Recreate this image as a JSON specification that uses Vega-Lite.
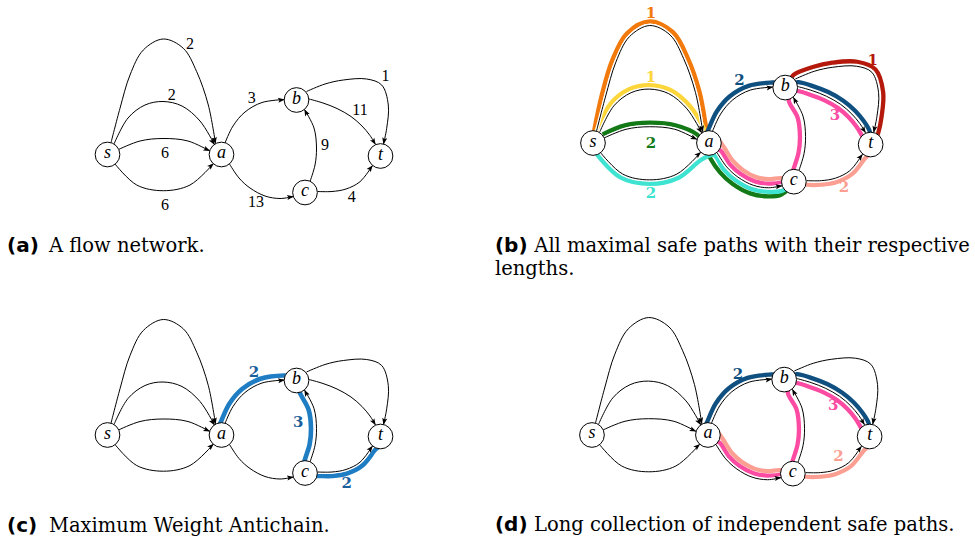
{
  "$schema": "https://vega.github.io/schema/vega-lite/v6.json",
  "padding": 0,
  "autosize": {"type": "pad"},
  "spacing": 0,
  "columns": 2,
  "bounds": "flush",
  "config": {"view": {"stroke": null}, "concat": {"spacing": 0}},
  "resolve": {"scale": {"x": "independent", "y": "independent"}},
  "datasets": {
    "nodes": [
      {"n": "s", "x": 107.5, "y": 154.5},
      {"n": "a", "x": 221.5, "y": 154.5},
      {"n": "b", "x": 296.5, "y": 100},
      {"n": "c", "x": 305, "y": 192.5},
      {"n": "t", "x": 380.5, "y": 156}
    ],
    "edges": [
      {"e": "E1", "i": 0, "x": 111, "y": 142.7}, {"e": "E1", "i": 1, "x": 120, "y": 108.3}, {"e": "E1", "i": 2, "x": 130, "y": 75}, {"e": "E1", "i": 3, "x": 143.3, "y": 50}, {"e": "E1", "i": 4, "x": 163.3, "y": 39}, {"e": "E1", "i": 5, "x": 183.3, "y": 48.3}, {"e": "E1", "i": 6, "x": 196.7, "y": 71.7}, {"e": "E1", "i": 7, "x": 208.3, "y": 105}, {"e": "E1", "i": 8, "x": 215.5, "y": 143.5},
      {"e": "E2", "i": 0, "x": 114, "y": 144}, {"e": "E2", "i": 1, "x": 128, "y": 118}, {"e": "E2", "i": 2, "x": 145, "y": 105}, {"e": "E2", "i": 3, "x": 163, "y": 101.5}, {"e": "E2", "i": 4, "x": 182, "y": 106}, {"e": "E2", "i": 5, "x": 200, "y": 121}, {"e": "E2", "i": 6, "x": 214.5, "y": 144.5},
      {"e": "E3", "i": 0, "x": 118.5, "y": 149.5}, {"e": "E3", "i": 1, "x": 140, "y": 141}, {"e": "E3", "i": 2, "x": 163, "y": 138.5}, {"e": "E3", "i": 3, "x": 188, "y": 141}, {"e": "E3", "i": 4, "x": 209.8, "y": 151},
      {"e": "E4", "i": 0, "x": 115, "y": 164}, {"e": "E4", "i": 1, "x": 136.7, "y": 185}, {"e": "E4", "i": 2, "x": 163.3, "y": 190.7}, {"e": "E4", "i": 3, "x": 190, "y": 185}, {"e": "E4", "i": 4, "x": 213.5, "y": 163.5},
      {"e": "E5", "i": 0, "x": 225, "y": 143}, {"e": "E5", "i": 1, "x": 233, "y": 126}, {"e": "E5", "i": 2, "x": 245, "y": 112}, {"e": "E5", "i": 3, "x": 262, "y": 102.5}, {"e": "E5", "i": 4, "x": 284.5, "y": 99.5},
      {"e": "E6", "i": 0, "x": 229.5, "y": 164}, {"e": "E6", "i": 1, "x": 239, "y": 178}, {"e": "E6", "i": 2, "x": 250, "y": 188}, {"e": "E6", "i": 3, "x": 265, "y": 196}, {"e": "E6", "i": 4, "x": 280, "y": 198.5}, {"e": "E6", "i": 5, "x": 293.5, "y": 196.5},
      {"e": "E7", "i": 0, "x": 310, "y": 181.5}, {"e": "E7", "i": 1, "x": 315, "y": 165}, {"e": "E7", "i": 2, "x": 316.5, "y": 148}, {"e": "E7", "i": 3, "x": 314, "y": 128}, {"e": "E7", "i": 4, "x": 304.5, "y": 109.5},
      {"e": "E8", "i": 0, "x": 306.5, "y": 91.5}, {"e": "E8", "i": 1, "x": 325, "y": 84}, {"e": "E8", "i": 2, "x": 343.3, "y": 80}, {"e": "E8", "i": 3, "x": 366.7, "y": 79}, {"e": "E8", "i": 4, "x": 381.7, "y": 85}, {"e": "E8", "i": 5, "x": 388.3, "y": 105}, {"e": "E8", "i": 6, "x": 386.7, "y": 128.3}, {"e": "E8", "i": 7, "x": 383.5, "y": 144},
      {"e": "E9", "i": 0, "x": 309, "y": 99}, {"e": "E9", "i": 1, "x": 323, "y": 103}, {"e": "E9", "i": 2, "x": 337, "y": 108.5}, {"e": "E9", "i": 3, "x": 351, "y": 116.5}, {"e": "E9", "i": 4, "x": 362, "y": 126}, {"e": "E9", "i": 5, "x": 370, "y": 135.5}, {"e": "E9", "i": 6, "x": 375.5, "y": 144.5},
      {"e": "E10", "i": 0, "x": 317.5, "y": 191.5}, {"e": "E10", "i": 1, "x": 332, "y": 191.5}, {"e": "E10", "i": 2, "x": 346, "y": 189}, {"e": "E10", "i": 3, "x": 360, "y": 181.7}, {"e": "E10", "i": 4, "x": 372.5, "y": 165.5}
    ],
    "arrows": [
      {"e": "E1", "x": 214.9, "y": 140.6, "dir": 169.4},
      {"e": "E2", "x": 212.9, "y": 142, "dir": 148.3},
      {"e": "E3", "x": 207.1, "y": 149.7, "dir": 114.6},
      {"e": "E4", "x": 211.3, "y": 165.5, "dir": 47.6},
      {"e": "E5", "x": 281.5, "y": 99.9, "dir": 82.4},
      {"e": "E6", "x": 290.5, "y": 196.9, "dir": 81.5},
      {"e": "E7", "x": 305.9, "y": 112.2, "dir": 332.7},
      {"e": "E8", "x": 384.1, "y": 141.1, "dir": 191.5},
      {"e": "E9", "x": 373.9, "y": 141.9, "dir": 148.6},
      {"e": "E10", "x": 370.7, "y": 167.9, "dir": 37.7}
    ],
    "paths_b": [
      {"seg": "orange", "p": "orange", "i": 0, "x": 108.5, "y": 143}, {"seg": "orange", "p": "orange", "i": 1, "x": 116.2, "y": 107.2}, {"seg": "orange", "p": "orange", "i": 2, "x": 126.4, "y": 73.2}, {"seg": "orange", "p": "orange", "i": 3, "x": 140.8, "y": 46.8}, {"seg": "orange", "p": "orange", "i": 4, "x": 163.3, "y": 35}, {"seg": "orange", "p": "orange", "i": 5, "x": 186.1, "y": 45.5}, {"seg": "orange", "p": "orange", "i": 6, "x": 200.3, "y": 70}, {"seg": "orange", "p": "orange", "i": 7, "x": 212.2, "y": 104}, {"seg": "orange", "p": "orange", "i": 8, "x": 219.4, "y": 142.8}, {"seg": "orange", "p": "orange", "i": 9, "x": 220.5, "y": 148},
      {"seg": "yellow", "p": "yellow", "i": 0, "x": 110.5, "y": 143.5}, {"seg": "yellow", "p": "yellow", "i": 1, "x": 125.2, "y": 115.2}, {"seg": "yellow", "p": "yellow", "i": 2, "x": 143.6, "y": 101.3}, {"seg": "yellow", "p": "yellow", "i": 3, "x": 163, "y": 97.5}, {"seg": "yellow", "p": "yellow", "i": 4, "x": 183.6, "y": 102.3}, {"seg": "yellow", "p": "yellow", "i": 5, "x": 203.2, "y": 118.6}, {"seg": "yellow", "p": "yellow", "i": 6, "x": 217, "y": 141}, {"seg": "yellow", "p": "yellow", "i": 7, "x": 219, "y": 146},
      {"seg": "green", "p": "green", "i": 0, "x": 117, "y": 146}, {"seg": "green", "p": "green", "i": 1, "x": 138.8, "y": 137.2}, {"seg": "green", "p": "green", "i": 2, "x": 163, "y": 134.5}, {"seg": "green", "p": "green", "i": 3, "x": 188.5, "y": 137}, {"seg": "green", "p": "green", "i": 4, "x": 210, "y": 146.3}, {"seg": "green", "p": "green", "i": 5, "x": 217, "y": 156}, {"seg": "green", "p": "green", "i": 6, "x": 222.4, "y": 168.8}, {"seg": "green", "p": "green", "i": 7, "x": 232.4, "y": 183.3}, {"seg": "green", "p": "green", "i": 8, "x": 244.9, "y": 194.8}, {"seg": "green", "p": "green", "i": 9, "x": 262.1, "y": 204}, {"seg": "green", "p": "green", "i": 10, "x": 279.8, "y": 207}, {"seg": "green", "p": "green", "i": 11, "x": 292, "y": 205.5}, {"seg": "green", "p": "green", "i": 12, "x": 301, "y": 199},
      {"seg": "cyan", "p": "cyan", "i": 0, "x": 110, "y": 164}, {"seg": "cyan", "p": "cyan", "i": 1, "x": 134.9, "y": 188.6}, {"seg": "cyan", "p": "cyan", "i": 2, "x": 163.3, "y": 194.7}, {"seg": "cyan", "p": "cyan", "i": 3, "x": 191.7, "y": 188.6}, {"seg": "cyan", "p": "cyan", "i": 4, "x": 214.5, "y": 170.6}, {"seg": "cyan", "p": "cyan", "i": 5, "x": 226.2, "y": 166.2}, {"seg": "cyan", "p": "cyan", "i": 6, "x": 235.9, "y": 180.5}, {"seg": "cyan", "p": "cyan", "i": 7, "x": 247.6, "y": 191.2}, {"seg": "cyan", "p": "cyan", "i": 8, "x": 263.6, "y": 199.8}, {"seg": "cyan", "p": "cyan", "i": 9, "x": 279.9, "y": 202.5}, {"seg": "cyan", "p": "cyan", "i": 10, "x": 293.3, "y": 201.5}, {"seg": "cyan", "p": "cyan", "i": 11, "x": 301, "y": 197},
      {"seg": "blue", "p": "blue", "i": 0, "x": 218.9, "y": 145.6}, {"seg": "blue", "p": "blue", "i": 1, "x": 221, "y": 141.1}, {"seg": "blue", "p": "blue", "i": 2, "x": 229.2, "y": 123.5}, {"seg": "blue", "p": "blue", "i": 3, "x": 242.1, "y": 108.5}, {"seg": "blue", "p": "blue", "i": 4, "x": 260.5, "y": 98.3}, {"seg": "blue", "p": "blue", "i": 5, "x": 283.9, "y": 95}, {"seg": "blue", "p": "blue", "i": 6, "x": 296.5, "y": 95}, {"seg": "blue", "p": "blue", "i": 7, "x": 309.7, "y": 94.7}, {"seg": "blue", "p": "blue", "i": 8, "x": 324.4, "y": 98.8}, {"seg": "blue", "p": "blue", "i": 9, "x": 338.8, "y": 104.4}, {"seg": "blue", "p": "blue", "i": 10, "x": 353.6, "y": 112.9}, {"seg": "blue", "p": "blue", "i": 11, "x": 365.2, "y": 122.8}, {"seg": "blue", "p": "blue", "i": 12, "x": 373.5, "y": 132.7}, {"seg": "blue", "p": "blue", "i": 13, "x": 379.3, "y": 142.2}, {"seg": "blue", "p": "blue", "i": 14, "x": 380.5, "y": 147},
      {"seg": "red", "p": "red", "i": 0, "x": 302, "y": 92}, {"seg": "red", "p": "red", "i": 1, "x": 304.7, "y": 87.4}, {"seg": "red", "p": "red", "i": 2, "x": 323.6, "y": 79.7}, {"seg": "red", "p": "red", "i": 3, "x": 342.9, "y": 75.5}, {"seg": "red", "p": "red", "i": 4, "x": 367.3, "y": 74.6}, {"seg": "red", "p": "red", "i": 5, "x": 385.2, "y": 82.1}, {"seg": "red", "p": "red", "i": 6, "x": 392.8, "y": 104.5}, {"seg": "red", "p": "red", "i": 7, "x": 391.2, "y": 128.8}, {"seg": "red", "p": "red", "i": 8, "x": 387.9, "y": 144.9}, {"seg": "red", "p": "red", "i": 9, "x": 386, "y": 150},
      {"seg": "pink", "p": "pink", "i": 0, "x": 226, "y": 160}, {"seg": "pink", "p": "pink", "i": 1, "x": 232.8, "y": 161.8}, {"seg": "pink", "p": "pink", "i": 2, "x": 242.1, "y": 175.5}, {"seg": "pink", "p": "pink", "i": 3, "x": 252.4, "y": 184.8}, {"seg": "pink", "p": "pink", "i": 4, "x": 266.4, "y": 192.2}, {"seg": "pink", "p": "pink", "i": 5, "x": 280.1, "y": 194.5}, {"seg": "pink", "p": "pink", "i": 6, "x": 292.7, "y": 193.5}, {"seg": "pink", "p": "pink", "i": 7, "x": 301, "y": 190}, {"seg": "pink", "p": "pink", "i": 8, "x": 304.7, "y": 179.9}, {"seg": "pink", "p": "pink", "i": 9, "x": 309.6, "y": 164}, {"seg": "pink", "p": "pink", "i": 10, "x": 311, "y": 148.2}, {"seg": "pink", "p": "pink", "i": 11, "x": 308.7, "y": 129.5}, {"seg": "pink", "p": "pink", "i": 12, "x": 300, "y": 112.5}, {"seg": "pink", "p": "pink", "i": 13, "x": 303, "y": 105}, {"seg": "pink", "p": "pink", "i": 14, "x": 307.8, "y": 103.3}, {"seg": "pink", "p": "pink", "i": 15, "x": 321.6, "y": 107.3}, {"seg": "pink", "p": "pink", "i": 16, "x": 335.2, "y": 112.6}, {"seg": "pink", "p": "pink", "i": 17, "x": 348.4, "y": 120.1}, {"seg": "pink", "p": "pink", "i": 18, "x": 358.9, "y": 129.2}, {"seg": "pink", "p": "pink", "i": 19, "x": 366.5, "y": 138.3}, {"seg": "pink", "p": "pink", "i": 20, "x": 371.7, "y": 146.8}, {"seg": "pink", "p": "pink", "i": 21, "x": 374, "y": 151},
      {"seg": "salmon", "p": "salmon", "i": 0, "x": 231, "y": 151}, {"seg": "salmon", "p": "salmon", "i": 1, "x": 236.6, "y": 159.2}, {"seg": "salmon", "p": "salmon", "i": 2, "x": 245.6, "y": 172.7}, {"seg": "salmon", "p": "salmon", "i": 3, "x": 255.1, "y": 181.2}, {"seg": "salmon", "p": "salmon", "i": 4, "x": 267.9, "y": 188}, {"seg": "salmon", "p": "salmon", "i": 5, "x": 280.2, "y": 190}, {"seg": "salmon", "p": "salmon", "i": 6, "x": 292.3, "y": 189}, {"seg": "salmon", "p": "salmon", "i": 7, "x": 305, "y": 192}, {"seg": "salmon", "p": "salmon", "i": 8, "x": 317.5, "y": 195.5}, {"seg": "salmon", "p": "salmon", "i": 9, "x": 332.4, "y": 195.5}, {"seg": "salmon", "p": "salmon", "i": 10, "x": 347.4, "y": 192.8}, {"seg": "salmon", "p": "salmon", "i": 11, "x": 362.4, "y": 184.9}, {"seg": "salmon", "p": "salmon", "i": 12, "x": 375.5, "y": 169}, {"seg": "salmon", "p": "salmon", "i": 13, "x": 379, "y": 166}
    ],
    "paths_c": [
      {"seg": "c1", "p": "acblue", "i": 0, "x": 218.9, "y": 145.6}, {"seg": "c1", "p": "acblue", "i": 1, "x": 221, "y": 141.1}, {"seg": "c1", "p": "acblue", "i": 2, "x": 229.2, "y": 123.5}, {"seg": "c1", "p": "acblue", "i": 3, "x": 242.1, "y": 108.5}, {"seg": "c1", "p": "acblue", "i": 4, "x": 260.5, "y": 98.3}, {"seg": "c1", "p": "acblue", "i": 5, "x": 283.9, "y": 95}, {"seg": "c1", "p": "acblue", "i": 6, "x": 290, "y": 95.5},
      {"seg": "c2", "p": "acblue", "i": 0, "x": 303, "y": 190}, {"seg": "c2", "p": "acblue", "i": 1, "x": 304.7, "y": 179.9}, {"seg": "c2", "p": "acblue", "i": 2, "x": 309.6, "y": 164}, {"seg": "c2", "p": "acblue", "i": 3, "x": 311, "y": 148.2}, {"seg": "c2", "p": "acblue", "i": 4, "x": 308.7, "y": 129.5}, {"seg": "c2", "p": "acblue", "i": 5, "x": 300, "y": 112.5}, {"seg": "c2", "p": "acblue", "i": 6, "x": 298.5, "y": 107},
      {"seg": "c3", "p": "acblue", "i": 0, "x": 310, "y": 196}, {"seg": "c3", "p": "acblue", "i": 1, "x": 317.5, "y": 195.5}, {"seg": "c3", "p": "acblue", "i": 2, "x": 332.4, "y": 195.5}, {"seg": "c3", "p": "acblue", "i": 3, "x": 347.4, "y": 192.8}, {"seg": "c3", "p": "acblue", "i": 4, "x": 362.4, "y": 184.9}, {"seg": "c3", "p": "acblue", "i": 5, "x": 375.5, "y": 169}, {"seg": "c3", "p": "acblue", "i": 6, "x": 379, "y": 166}
    ],
    "paths_d": [
      {"seg": "blue", "p": "blue", "i": 0, "x": 218.9, "y": 145.6}, {"seg": "blue", "p": "blue", "i": 1, "x": 221, "y": 141.1}, {"seg": "blue", "p": "blue", "i": 2, "x": 229.2, "y": 123.5}, {"seg": "blue", "p": "blue", "i": 3, "x": 242.1, "y": 108.5}, {"seg": "blue", "p": "blue", "i": 4, "x": 260.5, "y": 98.3}, {"seg": "blue", "p": "blue", "i": 5, "x": 283.9, "y": 95}, {"seg": "blue", "p": "blue", "i": 6, "x": 296.5, "y": 95}, {"seg": "blue", "p": "blue", "i": 7, "x": 309.7, "y": 94.7}, {"seg": "blue", "p": "blue", "i": 8, "x": 324.4, "y": 98.8}, {"seg": "blue", "p": "blue", "i": 9, "x": 338.8, "y": 104.4}, {"seg": "blue", "p": "blue", "i": 10, "x": 353.6, "y": 112.9}, {"seg": "blue", "p": "blue", "i": 11, "x": 365.2, "y": 122.8}, {"seg": "blue", "p": "blue", "i": 12, "x": 373.5, "y": 132.7}, {"seg": "blue", "p": "blue", "i": 13, "x": 379.3, "y": 142.2}, {"seg": "blue", "p": "blue", "i": 14, "x": 380.5, "y": 147},
      {"seg": "pink", "p": "pink", "i": 0, "x": 226, "y": 160}, {"seg": "pink", "p": "pink", "i": 1, "x": 232.8, "y": 161.8}, {"seg": "pink", "p": "pink", "i": 2, "x": 242.1, "y": 175.5}, {"seg": "pink", "p": "pink", "i": 3, "x": 252.4, "y": 184.8}, {"seg": "pink", "p": "pink", "i": 4, "x": 266.4, "y": 192.2}, {"seg": "pink", "p": "pink", "i": 5, "x": 280.1, "y": 194.5}, {"seg": "pink", "p": "pink", "i": 6, "x": 292.7, "y": 193.5}, {"seg": "pink", "p": "pink", "i": 7, "x": 301, "y": 190}, {"seg": "pink", "p": "pink", "i": 8, "x": 304.7, "y": 179.9}, {"seg": "pink", "p": "pink", "i": 9, "x": 309.6, "y": 164}, {"seg": "pink", "p": "pink", "i": 10, "x": 311, "y": 148.2}, {"seg": "pink", "p": "pink", "i": 11, "x": 308.7, "y": 129.5}, {"seg": "pink", "p": "pink", "i": 12, "x": 300, "y": 112.5}, {"seg": "pink", "p": "pink", "i": 13, "x": 303, "y": 105}, {"seg": "pink", "p": "pink", "i": 14, "x": 307.8, "y": 103.3}, {"seg": "pink", "p": "pink", "i": 15, "x": 321.6, "y": 107.3}, {"seg": "pink", "p": "pink", "i": 16, "x": 335.2, "y": 112.6}, {"seg": "pink", "p": "pink", "i": 17, "x": 348.4, "y": 120.1}, {"seg": "pink", "p": "pink", "i": 18, "x": 358.9, "y": 129.2}, {"seg": "pink", "p": "pink", "i": 19, "x": 366.5, "y": 138.3}, {"seg": "pink", "p": "pink", "i": 20, "x": 371.7, "y": 146.8}, {"seg": "pink", "p": "pink", "i": 21, "x": 374, "y": 151},
      {"seg": "salmon", "p": "salmon", "i": 0, "x": 231, "y": 151}, {"seg": "salmon", "p": "salmon", "i": 1, "x": 236.6, "y": 159.2}, {"seg": "salmon", "p": "salmon", "i": 2, "x": 245.6, "y": 172.7}, {"seg": "salmon", "p": "salmon", "i": 3, "x": 255.1, "y": 181.2}, {"seg": "salmon", "p": "salmon", "i": 4, "x": 267.9, "y": 188}, {"seg": "salmon", "p": "salmon", "i": 5, "x": 280.2, "y": 190}, {"seg": "salmon", "p": "salmon", "i": 6, "x": 292.3, "y": 189}, {"seg": "salmon", "p": "salmon", "i": 7, "x": 305, "y": 192}, {"seg": "salmon", "p": "salmon", "i": 8, "x": 317.5, "y": 195.5}, {"seg": "salmon", "p": "salmon", "i": 9, "x": 332.4, "y": 195.5}, {"seg": "salmon", "p": "salmon", "i": 10, "x": 347.4, "y": 192.8}, {"seg": "salmon", "p": "salmon", "i": 11, "x": 362.4, "y": 184.9}, {"seg": "salmon", "p": "salmon", "i": 12, "x": 375.5, "y": 169}, {"seg": "salmon", "p": "salmon", "i": 13, "x": 379, "y": 166}
    ],
    "labels_a": [
      {"t": "2", "x": 190, "y": 44}, {"t": "2", "x": 171.7, "y": 95}, {"t": "6", "x": 165, "y": 153.3}, {"t": "6", "x": 165, "y": 205},
      {"t": "3", "x": 251.7, "y": 98.3}, {"t": "1", "x": 385.5, "y": 75.5}, {"t": "11", "x": 360, "y": 110}, {"t": "9", "x": 325, "y": 145},
      {"t": "13", "x": 256, "y": 201.7}, {"t": "4", "x": 351.7, "y": 196.7}
    ],
    "labels_b": [
      {"t": "1", "p": "orange", "x": 164.5, "y": 26.3}, {"t": "1", "p": "yellow", "x": 164.5, "y": 89.9},
      {"t": "2", "p": "green", "x": 164.5, "y": 154.2}, {"t": "2", "p": "cyan", "x": 164.5, "y": 203.4},
      {"t": "2", "p": "blue", "x": 251.5, "y": 92.5}, {"t": "1", "p": "red", "x": 382.5, "y": 72.5},
      {"t": "3", "p": "pink", "x": 345.5, "y": 127}, {"t": "2", "p": "salmon", "x": 354.3, "y": 197.5}
    ],
    "labels_c": [
      {"t": "2", "p": "actext", "x": 254, "y": 91}, {"t": "3", "p": "actext", "x": 298.3, "y": 141.2}, {"t": "2", "p": "actext", "x": 346.7, "y": 202.2}
    ],
    "labels_d": [
      {"t": "2", "p": "blue", "x": 251, "y": 94.5}, {"t": "3", "p": "pink", "x": 344.8, "y": 125.2}, {"t": "2", "p": "salmon", "x": 349.8, "y": 175.4}
    ],
    "cap_a": [{"k": "tag", "t": "(a)", "x": 7, "y": 251.5}, {"k": "txt", "t": "A flow network.", "x": 49, "y": 251.5}],
    "cap_b": [{"k": "tag", "t": "(b)", "x": 11.1, "y": 261.4}, {"k": "txt", "t": "All maximal safe paths with their respective", "x": 49.8, "y": 261.4}, {"k": "txt", "t": "lengths.", "x": 11.1, "y": 284.3}],
    "cap_c": [{"k": "tag", "t": "(c)", "x": 7, "y": 251}, {"k": "txt", "t": "Maximum Weight Antichain.", "x": 49, "y": 251}],
    "cap_d": [{"k": "tag", "t": "(d)", "x": 12.1, "y": 249.4}, {"k": "txt", "t": "Long collection of independent safe paths.", "x": 50.5, "y": 249.4}]
  },
  "concat": [
    {
      "width": 487, "height": 272,
      "encoding": {
        "x": {"field": "x", "type": "quantitative", "axis": null, "scale": {"domain": [0, 487], "nice": false, "zero": false}},
        "y": {"field": "y", "type": "quantitative", "axis": null, "scale": {"domain": [0, 272], "nice": false, "zero": false, "reverse": true}}
      },
      "layer": [
        {"data": {"name": "edges"}, "mark": {"type": "line", "interpolate": "catmull-rom", "color": "black", "strokeWidth": 1}, "encoding": {"detail": {"field": "e", "type": "nominal"}, "order": {"field": "i", "type": "quantitative"}}},
        {"data": {"name": "arrows"}, "mark": {"type": "point", "shape": "M0,-1L0.75,1L0,0.6L-0.75,1Z", "filled": true, "color": "black", "opacity": 1, "size": 46, "strokeWidth": 0}, "encoding": {"angle": {"field": "dir", "type": "quantitative", "scale": null}}},
        {"data": {"name": "nodes"}, "mark": {"type": "point", "shape": "circle", "size": 610, "filled": true, "fill": "white", "stroke": "black", "strokeWidth": 1, "opacity": 1}},
        {"data": {"name": "nodes"}, "mark": {"type": "text", "font": "Liberation Serif", "fontStyle": "italic", "fontSize": 18, "baseline": "middle", "dy": -1.5, "color": "black"}, "encoding": {"text": {"field": "n"}}},
        {"data": {"name": "labels_a"}, "mark": {"type": "text", "font": "Liberation Serif", "fontSize": 16, "baseline": "middle", "color": "black"}, "encoding": {"text": {"field": "t"}}},
        {"data": {"name": "cap_a"}, "transform": [{"filter": "datum.k == 'tag'"}], "mark": {"type": "text", "font": "DejaVu Sans", "fontWeight": "bold", "fontSize": 20, "align": "left", "baseline": "alphabetic", "color": "black"}, "encoding": {"text": {"field": "t"}}},
        {"data": {"name": "cap_a"}, "transform": [{"filter": "datum.k == 'txt'"}], "mark": {"type": "text", "font": "DejaVu Serif", "fontSize": 19.5, "align": "left", "baseline": "alphabetic", "color": "black"}, "encoding": {"text": {"field": "t"}}}
      ]
    },
    {
      "width": 488, "height": 272,
      "encoding": {
        "x": {"field": "x", "type": "quantitative", "axis": null, "scale": {"domain": [3.3, 483.1], "nice": false, "zero": false}},
        "y": {"field": "y", "type": "quantitative", "axis": null, "scale": {"domain": [13.9, 281.3], "nice": false, "zero": false, "reverse": true}}
      },
      "layer": [
        {"data": {"name": "paths_b"}, "mark": {"type": "line", "interpolate": "catmull-rom", "strokeWidth": 4.3, "strokeCap": "butt", "strokeJoin": "round"}, "encoding": {"detail": {"field": "seg", "type": "nominal"}, "order": {"field": "i", "type": "quantitative"}, "color": {"field": "p", "type": "nominal", "legend": null, "scale": {"domain": ["orange", "yellow", "green", "cyan", "blue", "red", "pink", "salmon", "acblue", "actext"], "range": ["#f27a0c", "#fdd63b", "#137a17", "#3ee3d1", "#0f5080", "#b5190b", "#fc4ba2", "#fc9f93", "#1e7dc3", "#1b609a"]}}}},
        {"data": {"name": "edges"}, "mark": {"type": "line", "interpolate": "catmull-rom", "color": "white", "strokeWidth": 3.4}, "encoding": {"detail": {"field": "e", "type": "nominal"}, "order": {"field": "i", "type": "quantitative"}}},
        {"data": {"name": "edges"}, "mark": {"type": "line", "interpolate": "catmull-rom", "color": "black", "strokeWidth": 1}, "encoding": {"detail": {"field": "e", "type": "nominal"}, "order": {"field": "i", "type": "quantitative"}}},
        {"data": {"name": "arrows"}, "mark": {"type": "point", "shape": "M0,-1L0.75,1L0,0.6L-0.75,1Z", "filled": true, "color": "black", "opacity": 1, "size": 46, "strokeWidth": 0}, "encoding": {"angle": {"field": "dir", "type": "quantitative", "scale": null}}},
        {"data": {"name": "nodes"}, "mark": {"type": "point", "shape": "circle", "size": 610, "filled": true, "fill": "white", "stroke": "black", "strokeWidth": 1, "opacity": 1}},
        {"data": {"name": "nodes"}, "mark": {"type": "text", "font": "Liberation Serif", "fontStyle": "italic", "fontSize": 18, "baseline": "middle", "dy": -1.5, "color": "black"}, "encoding": {"text": {"field": "n"}}},
        {"data": {"name": "labels_b"}, "mark": {"type": "text", "font": "DejaVu Serif", "fontWeight": "bold", "fontSize": 15, "baseline": "middle"}, "encoding": {"text": {"field": "t"}, "color": {"field": "p", "type": "nominal", "legend": null, "scale": {"domain": ["orange", "yellow", "green", "cyan", "blue", "red", "pink", "salmon", "acblue", "actext"], "range": ["#f27a0c", "#fdd63b", "#137a17", "#3ee3d1", "#0f5080", "#b5190b", "#fc4ba2", "#fc9f93", "#1e7dc3", "#1b609a"]}}}},
        {"data": {"name": "cap_b"}, "transform": [{"filter": "datum.k == 'tag'"}], "mark": {"type": "text", "font": "DejaVu Sans", "fontWeight": "bold", "fontSize": 20, "align": "left", "baseline": "alphabetic", "color": "black"}, "encoding": {"text": {"field": "t"}}},
        {"data": {"name": "cap_b"}, "transform": [{"filter": "datum.k == 'txt'"}], "mark": {"type": "text", "font": "DejaVu Serif", "fontSize": 19.5, "align": "left", "baseline": "alphabetic", "color": "black"}, "encoding": {"text": {"field": "t"}}}
      ]
    },
    {
      "width": 487, "height": 273,
      "encoding": {
        "x": {"field": "x", "type": "quantitative", "axis": null, "scale": {"domain": [0, 487], "nice": false, "zero": false}},
        "y": {"field": "y", "type": "quantitative", "axis": null, "scale": {"domain": [-8.5, 264.5], "nice": false, "zero": false, "reverse": true}}
      },
      "layer": [
        {"data": {"name": "paths_c"}, "mark": {"type": "line", "interpolate": "catmull-rom", "strokeWidth": 4.6, "strokeCap": "butt", "strokeJoin": "round"}, "encoding": {"detail": {"field": "seg", "type": "nominal"}, "order": {"field": "i", "type": "quantitative"}, "color": {"field": "p", "type": "nominal", "legend": null, "scale": {"domain": ["orange", "yellow", "green", "cyan", "blue", "red", "pink", "salmon", "acblue", "actext"], "range": ["#f27a0c", "#fdd63b", "#137a17", "#3ee3d1", "#0f5080", "#b5190b", "#fc4ba2", "#fc9f93", "#1e7dc3", "#1b609a"]}}}},
        {"data": {"name": "edges"}, "mark": {"type": "line", "interpolate": "catmull-rom", "color": "white", "strokeWidth": 3.4}, "encoding": {"detail": {"field": "e", "type": "nominal"}, "order": {"field": "i", "type": "quantitative"}}},
        {"data": {"name": "edges"}, "mark": {"type": "line", "interpolate": "catmull-rom", "color": "black", "strokeWidth": 1}, "encoding": {"detail": {"field": "e", "type": "nominal"}, "order": {"field": "i", "type": "quantitative"}}},
        {"data": {"name": "arrows"}, "mark": {"type": "point", "shape": "M0,-1L0.75,1L0,0.6L-0.75,1Z", "filled": true, "color": "black", "opacity": 1, "size": 46, "strokeWidth": 0}, "encoding": {"angle": {"field": "dir", "type": "quantitative", "scale": null}}},
        {"data": {"name": "nodes"}, "mark": {"type": "point", "shape": "circle", "size": 610, "filled": true, "fill": "white", "stroke": "black", "strokeWidth": 1, "opacity": 1}},
        {"data": {"name": "nodes"}, "mark": {"type": "text", "font": "Liberation Serif", "fontStyle": "italic", "fontSize": 18, "baseline": "middle", "dy": -1.5, "color": "black"}, "encoding": {"text": {"field": "n"}}},
        {"data": {"name": "labels_c"}, "mark": {"type": "text", "font": "DejaVu Serif", "fontWeight": "bold", "fontSize": 15, "baseline": "middle"}, "encoding": {"text": {"field": "t"}, "color": {"field": "p", "type": "nominal", "legend": null, "scale": {"domain": ["orange", "yellow", "green", "cyan", "blue", "red", "pink", "salmon", "acblue", "actext"], "range": ["#f27a0c", "#fdd63b", "#137a17", "#3ee3d1", "#0f5080", "#b5190b", "#fc4ba2", "#fc9f93", "#1e7dc3", "#1b609a"]}}}},
        {"data": {"name": "cap_c"}, "transform": [{"filter": "datum.k == 'tag'"}], "mark": {"type": "text", "font": "DejaVu Sans", "fontWeight": "bold", "fontSize": 20, "align": "left", "baseline": "alphabetic", "color": "black"}, "encoding": {"text": {"field": "t"}}},
        {"data": {"name": "cap_c"}, "transform": [{"filter": "datum.k == 'txt'"}], "mark": {"type": "text", "font": "DejaVu Serif", "fontSize": 19.5, "align": "left", "baseline": "alphabetic", "color": "black"}, "encoding": {"text": {"field": "t"}}}
      ]
    },
    {
      "width": 488, "height": 273,
      "encoding": {
        "x": {"field": "x", "type": "quantitative", "axis": null, "scale": {"domain": [4.3, 484.1], "nice": false, "zero": false}},
        "y": {"field": "y", "type": "quantitative", "axis": null, "scale": {"domain": [-5.8, 262.7], "nice": false, "zero": false, "reverse": true}}
      },
      "layer": [
        {"data": {"name": "paths_d"}, "mark": {"type": "line", "interpolate": "catmull-rom", "strokeWidth": 4.3, "strokeCap": "butt", "strokeJoin": "round"}, "encoding": {"detail": {"field": "seg", "type": "nominal"}, "order": {"field": "i", "type": "quantitative"}, "color": {"field": "p", "type": "nominal", "legend": null, "scale": {"domain": ["orange", "yellow", "green", "cyan", "blue", "red", "pink", "salmon", "acblue", "actext"], "range": ["#f27a0c", "#fdd63b", "#137a17", "#3ee3d1", "#0f5080", "#b5190b", "#fc4ba2", "#fc9f93", "#1e7dc3", "#1b609a"]}}}},
        {"data": {"name": "edges"}, "mark": {"type": "line", "interpolate": "catmull-rom", "color": "white", "strokeWidth": 3.4}, "encoding": {"detail": {"field": "e", "type": "nominal"}, "order": {"field": "i", "type": "quantitative"}}},
        {"data": {"name": "edges"}, "mark": {"type": "line", "interpolate": "catmull-rom", "color": "black", "strokeWidth": 1}, "encoding": {"detail": {"field": "e", "type": "nominal"}, "order": {"field": "i", "type": "quantitative"}}},
        {"data": {"name": "arrows"}, "mark": {"type": "point", "shape": "M0,-1L0.75,1L0,0.6L-0.75,1Z", "filled": true, "color": "black", "opacity": 1, "size": 46, "strokeWidth": 0}, "encoding": {"angle": {"field": "dir", "type": "quantitative", "scale": null}}},
        {"data": {"name": "nodes"}, "mark": {"type": "point", "shape": "circle", "size": 610, "filled": true, "fill": "white", "stroke": "black", "strokeWidth": 1, "opacity": 1}},
        {"data": {"name": "nodes"}, "mark": {"type": "text", "font": "Liberation Serif", "fontStyle": "italic", "fontSize": 18, "baseline": "middle", "dy": -1.5, "color": "black"}, "encoding": {"text": {"field": "n"}}},
        {"data": {"name": "labels_d"}, "mark": {"type": "text", "font": "DejaVu Serif", "fontWeight": "bold", "fontSize": 15, "baseline": "middle"}, "encoding": {"text": {"field": "t"}, "color": {"field": "p", "type": "nominal", "legend": null, "scale": {"domain": ["orange", "yellow", "green", "cyan", "blue", "red", "pink", "salmon", "acblue", "actext"], "range": ["#f27a0c", "#fdd63b", "#137a17", "#3ee3d1", "#0f5080", "#b5190b", "#fc4ba2", "#fc9f93", "#1e7dc3", "#1b609a"]}}}},
        {"data": {"name": "cap_d"}, "transform": [{"filter": "datum.k == 'tag'"}], "mark": {"type": "text", "font": "DejaVu Sans", "fontWeight": "bold", "fontSize": 20, "align": "left", "baseline": "alphabetic", "color": "black"}, "encoding": {"text": {"field": "t"}}},
        {"data": {"name": "cap_d"}, "transform": [{"filter": "datum.k == 'txt'"}], "mark": {"type": "text", "font": "DejaVu Serif", "fontSize": 19.5, "align": "left", "baseline": "alphabetic", "color": "black"}, "encoding": {"text": {"field": "t"}}}
      ]
    }
  ]
}
